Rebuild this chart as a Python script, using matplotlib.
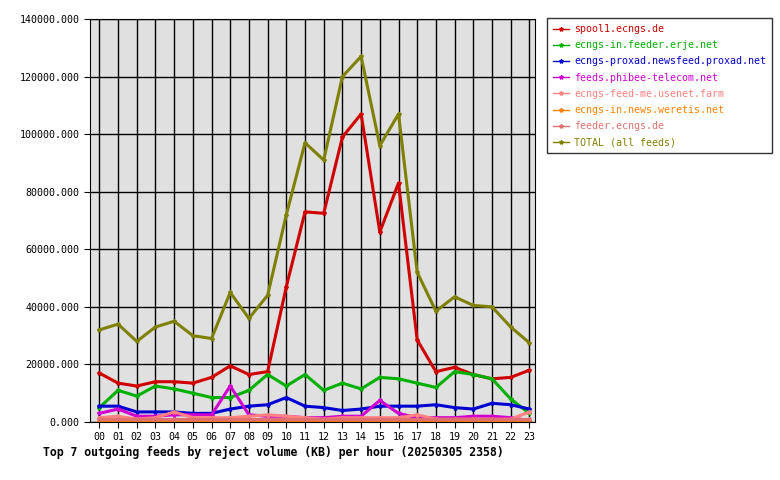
import matplotlib
matplotlib.use("Agg")
import matplotlib.pyplot as plt
from matplotlib.ticker import FuncFormatter

hours = ["%02d" % h for h in range(24)]
names = ["spool1.ecngs.de", "ecngs-in.feeder.erje.net", "ecngs-proxad.newsfeed.proxad.net",
         "feeds.phibee-telecom.net", "ecngs-feed-me.usenet.farm", "ecngs-in.news.weretis.net",
         "feeder.ecngs.de", "TOTAL (all feeds)"]
colors = ["#d00000", "#00b000", "#0000d0", "#d000d0", "#ff8080", "#ff8000", "#e07070", "#808000"]
spool1 = [17000,13500,12500,14000,14000,13500,15500,19500,16500,17500,47000,73000,72500,99000,107000,66000,83000,28500,17500,19000,16500,15000,15500,18000]
erje = [5000,11000,9000,12500,11500,10000,8500,8500,11000,16500,12500,16500,11000,13500,11500,15500,15000,13500,12000,17500,16500,15000,8000,3000]
proxad = [5500,5500,3500,3500,3500,3000,3000,4500,5500,6000,8500,5500,5000,4000,4500,5500,5500,5500,6000,5000,4500,6500,6000,4500]
phibee = [3000,4500,2000,2000,2500,2500,2500,12500,2500,2000,2000,1500,1500,2000,2000,7500,3000,1500,1500,1500,2000,2000,1500,500]
feedme = [1500,2000,1000,1500,3500,1500,1500,1500,2000,2500,2000,1500,1000,1500,1500,1500,1500,2500,1000,1000,1000,1000,1000,3500]
weretis = [500,500,500,500,500,500,500,500,500,500,500,500,500,500,500,500,500,500,500,500,500,500,500,500]
feeder = [1000,1000,1000,1000,1000,1000,1000,1000,1000,1000,1000,1000,1000,1000,1000,1000,1000,1000,1000,1000,1000,1000,1000,1000]
total = [32000,34000,28000,33000,35000,30000,29000,45000,36000,44000,72000,97000,91000,120000,127000,96000,107000,52000,38500,43500,40500,40000,33000,27500]
series = [spool1, erje, proxad, phibee, feedme, weretis, feeder, total]

plt.rcParams["font.family"] = "DejaVu Sans Mono"
fig = plt.figure(figsize=(7.8, 4.8), dpi=100)
ax = fig.add_axes([90/780, 1-422/480, (535-90)/780, (422-19)/480])
ax.set_facecolor("#e0e0e0")
x = list(range(24))
for s, c, n in zip(series, colors, names):
    ax.plot(x, s, color=c, lw=2.2, label=n, marker="*", markersize=3)
ax.set_xlim(-0.5, 23.3)
ax.set_ylim(0, 140000)
ax.set_xticks(x)
ax.set_xticklabels(hours)
ax.set_yticks(range(0, 140001, 20000))
ax.yaxis.set_major_formatter(FuncFormatter(lambda v, p: "%d.000" % v))
ax.tick_params(labelsize=7.2, length=4)
ax.grid(True, color="black", lw=1)
for sp in ax.spines.values():
    sp.set_color("black")
fig.text(43/780, 1-452/480, "Top 7 outgoing feeds by reject volume (KB) per hour (20250305 2358)",
         fontsize=8.3, fontweight="bold", va="center", ha="left")
leg = fig.legend(loc="upper left", bbox_to_anchor=(547/780, 1-18/480), fontsize=7.2,
                 frameon=True, fancybox=False, edgecolor="black", handlelength=1.6,
                 handletextpad=0.5, borderpad=0.6, labelspacing=0.62, borderaxespad=0)
leg.get_frame().set_linewidth(1)
for t, c in zip(leg.get_texts(), colors):
    t.set_color(c)
for h in leg.legend_handles:
    h.set_linewidth(1)
fig.savefig("out.png", dpi=100)
